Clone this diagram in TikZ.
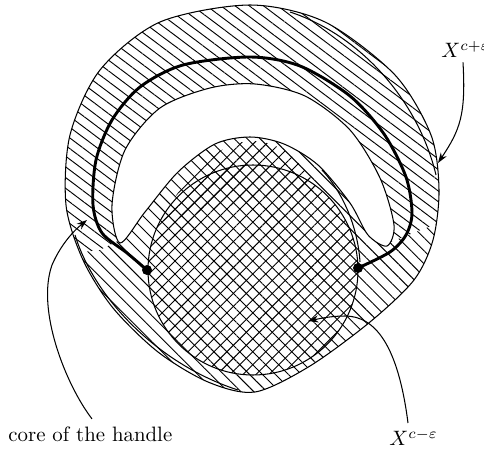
\documentclass[tikz,border=0pt]{standalone}
\usetikzlibrary{patterns.meta,arrows.meta}
\begin{document}
\begin{tikzpicture}[x=0.48pt,y=-0.48pt,
  outline/.style={line width=0.5pt},
  corecurve/.style={line width=1.4pt},
  pointer/.style={line width=0.5pt,-{Stealth[length=5pt,width=3.4pt]}},
  lbl/.style={inner sep=0pt},
  hatchB/.style={pattern={Lines[angle=-45,distance=4.4pt,line width=0.45pt]}},
  hatchH/.style={pattern={Lines[angle=-37,distance=4.1pt,line width=0.45pt]}},
  hatchX/.style={pattern={Lines[angle=45,distance=4.4pt,line width=0.45pt]}}]
\useasboundingbox (0,0) rectangle (484,449);
\def\silh{plot[smooth cycle] coordinates {(250,5) (325,22) (395,75) (431,135) (439,190) (433,240) (414,280) (370,322) (310,366) (255,392) (208,382) (158,352) (113,308) (83,260) (66,205) (70,135) (100,70) (160,22)}}
\def\cresc{plot[smooth cycle] coordinates {(120,243) (112,205) (125,150) (160,108) (210,88) (255,84) (305,96) (350,130) (380,178) (394,225) (387,246) (368,235) (350,203) (318,165) (284,144) (250,137) (215,144) (178,172) (145,212)}}
\def\seam{(0,262) -- (100,250) -- plot[smooth] coordinates {(120,240) (145,209) (178,169) (215,141) (250,134) (284,141) (318,162) (350,200) (368,232) (388,243)} -- (484,205)}
% blob hatch (lower part)
\begin{scope}
  \clip \seam -- (484,449) -- (0,449) -- cycle;
  \fill[hatchB,even odd rule] \silh \cresc;
\end{scope}
% handle hatch (upper arch)
\begin{scope}
  \clip \seam -- (484,0) -- (0,0) -- cycle;
  \fill[hatchH,even odd rule] \silh \cresc;
\end{scope}
% cross hatch of X^{c-eps}
\fill[hatchX] (253,270) circle[radius=105];
\fill[hatchX] (159,222) .. controls (185,178) and (215,142) .. (252,141) .. controls (280,141) and (300,160) .. (316,186) -- cycle;
% outlines
\draw[outline] \silh;
\draw[outline] \cresc;
\draw[outline] (253,270) circle[radius=105];
\draw[outline] (290,12) .. controls (360,35) and (418,100) .. (436,175);
\draw[outline] (322,170) .. controls (345,195) and (358,230) .. (360,262);
\draw[outline] (75,235) .. controls (95,300) and (160,365) .. (238,390);
% core of the handle
\draw[corecurve] plot[smooth] coordinates {(147,270) (127,253) (102,233) (93,205) (96,160) (112,120) (140,87) (183,65) (250,57) (300,66) (350,96) (384,134) (406,177) (412,213) (406,235) (390,252) (358,268)};
\coordinate (dotL) at (147,270);
\coordinate (dotR) at (358,268);
\fill (dotL) circle[radius=2.4pt];
\fill (dotR) circle[radius=2.4pt];
% labels
\node[lbl,anchor=base west] (xplus) at (441,58) {$X^{c+\varepsilon}$};
\node[lbl,anchor=base west] (xminus) at (389,446) {$X^{c-\varepsilon}$};
\node[lbl,anchor=base west] (corelbl) at (8,442) {core of the handle};
\coordinate (tipP) at (438,163);
\coordinate (tipM) at (308,321);
\coordinate (tipC) at (87,220);
\draw[pointer] (xplus.south -| 463,0) ++(0,4) .. controls (466,115) and (460,130) .. (tipP);
\draw[pointer] (xminus.north -| 408,0) ++(0,-6) .. controls (398,345) and (375,316) .. (345,316) .. controls (330,316) and (318,319) .. (tipM);
\draw[pointer] (corelbl.north -| 92,0) ++(0,-8) .. controls (66,385) and (36,310) .. (52,265) .. controls (62,242) and (76,229) .. (tipC);
\end{tikzpicture}
\end{document}
